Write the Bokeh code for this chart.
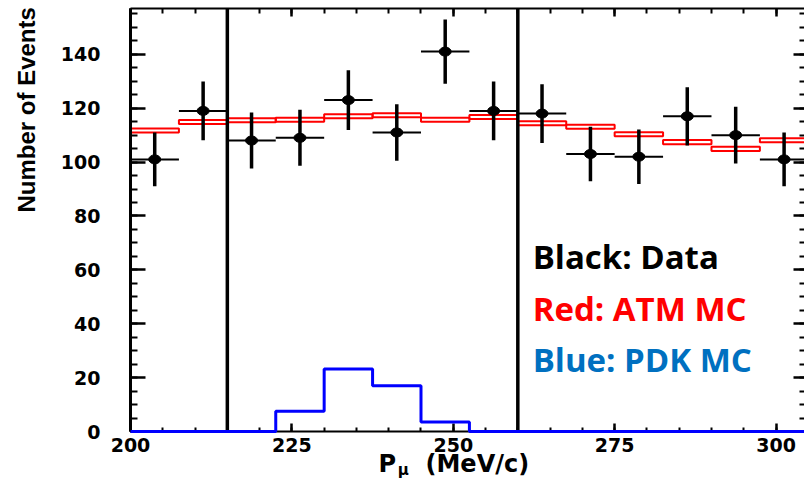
import math

from bokeh.plotting import figure
from bokeh.models import (Range1d, LinearAxis, Label, SingleIntervalTicker,
                          CustomJSTickFormatter)
from bokeh.embed import file_html
from bokeh.resources import INLINE

# Muon momentum bins (MeV/c), 7.5 MeV/c wide
bin_edges = [200.0, 207.5, 215.0, 222.5, 230.0, 237.5, 245.0, 252.5,
             260.0, 267.5, 275.0, 282.5, 290.0, 297.5, 305.0]

# Observed events per bin and their statistical errors
data_counts = [101, 119, 108, 109, 123, 111, 141, 119, 118, 103, 102, 117, 110, 101]
data_errors = [10.0, 10.9, 10.4, 10.4, 11.1, 10.5, 11.9, 10.9, 10.9, 10.1, 10.1, 10.8, 10.5, 10.0]

# Atmospheric-neutrino MC expectation (band) per bin
atm_mc = [111.7, 114.9, 115.5, 115.7, 117.0, 117.4, 115.7, 116.7,
          114.4, 113.1, 110.3, 107.4, 104.9, 108.1]
atm_mc_err = [0.75, 0.75, 0.75, 0.75, 0.75, 0.75, 0.75, 0.75,
              0.75, 0.75, 0.75, 0.75, 0.75, 0.75]

# Proton-decay MC per bin
pdk_mc = [0, 0, 0, 7.5, 23.2, 17.0, 3.5, 0, 0, 0, 0, 0, 0, 0]

# Momentum window cuts
cut_lines = [215, 260]

legend_texts = ["Black: Data", "Red: ATM MC", "Blue: PDK MC"]
legend_colors = ["#000000", "#ff0000", "#0070c0"]

x_title = ["P", "\u03bc", "(MeV/c)"]
y_title = "Number of Events"

# Histogram frame (data units); the canvas extends past it to hold titles
x_lo, x_hi = 200.0, 304.41
y_lo, y_hi = 0.0, 157.0

lefts = bin_edges[:-1]
rights = bin_edges[1:]
centers = [(a + b) / 2 for a, b in zip(lefts, rights)]

p = figure(width=804, height=481,
           x_range=Range1d(179.86, x_hi), y_range=Range1d(-18.55, 159.97),
           output_backend="svg", toolbar_location=None,
           min_border=0, x_axis_location=None, y_axis_location=None)
p.xgrid.visible = False
p.ygrid.visible = False
p.outline_line_color = None
p.background_fill_color = "white"
p.border_fill_color = "white"

tick_font = "DejaVu Sans"
blank = CustomJSTickFormatter(code="return ''")


def make_axis(loc, bounds, ticker, tick_in, minor_in, line_w, show_labels, standoff=0):
    ax = LinearAxis(ticker=ticker, fixed_location=loc, bounds=bounds)
    ax.major_tick_in = tick_in
    ax.major_tick_out = 0
    ax.minor_tick_in = minor_in
    ax.minor_tick_out = 0
    ax.axis_line_width = line_w
    ax.major_tick_line_width = 2.5
    ax.minor_tick_line_width = 2
    ax.axis_line_color = "black"
    ax.major_tick_line_color = "black"
    ax.minor_tick_line_color = "black"
    if show_labels:
        ax.major_label_text_font = tick_font
        ax.major_label_text_font_style = "bold"
        ax.major_label_text_font_size = "19px"
        ax.major_label_text_color = "black"
        ax.major_label_standoff = standoff
    else:
        ax.formatter = blank
        ax.major_label_standoff = 0
    return ax


x_ticker = SingleIntervalTicker(interval=25, num_minor_ticks=5)
y_ticker = SingleIntervalTicker(interval=20, num_minor_ticks=4)

p.add_layout(make_axis(y_lo, (x_lo, x_hi), x_ticker, 8, 4, 2, True, standoff=6), "below")
p.add_layout(make_axis(y_hi, (x_lo, x_hi), x_ticker, 8, 5, 2, False), "above")
p.add_layout(make_axis(x_lo, (y_lo, y_hi), y_ticker, 15, 7, 3, True, standoff=30), "left")
right_axis = make_axis(x_hi, (y_lo, y_hi), y_ticker, 11, 5, 2, False)
right_axis.axis_line_color = None
p.add_layout(right_axis, "right")

# ATM MC band: hollow boxes per bin
p.quad(left=lefts, right=rights,
       bottom=[v - e for v, e in zip(atm_mc, atm_mc_err)],
       top=[v + e for v, e in zip(atm_mc, atm_mc_err)],
       fill_color=None, line_color="#ff0000", line_width=2)

# Cut lines spanning the histogram frame
p.segment(x0=cut_lines, x1=cut_lines, y0=[y_lo] * len(cut_lines), y1=[y_hi] * len(cut_lines),
          line_color="black", line_width=3.5)

# PDK MC histogram outline (drawn over the axis line)
p.step(x=bin_edges[:-1] + [x_hi], y=pdk_mc + [pdk_mc[-1]], mode="after",
       line_color="#0000ff", line_width=3, level="overlay")

# Data points with error bars
p.segment(x0=centers, x1=centers,
          y0=[v - e for v, e in zip(data_counts, data_errors)],
          y1=[v + e for v, e in zip(data_counts, data_errors)],
          line_color="black", line_width=3.5)
p.segment(x0=lefts, x1=rights, y0=data_counts, y1=data_counts,
          line_color="black", line_width=2)
p.ellipse(x=centers, y=data_counts, width=12, height=9,
          width_units="screen", height_units="screen",
          fill_color="black", line_color="black")

# Legend text block
for i, (t, col) in enumerate(zip(legend_texts, legend_colors)):
    p.add_layout(Label(x=262.3, y=64.8 - 19.0 * i, text=t, text_color=col,
                       text_font="Open Sans", text_font_style="bold",
                       text_font_size="33px", text_baseline="alphabetic",
                       text_align="left"))

# Axis titles
p.add_layout(Label(x=183.9, y=119.4, text=y_title, angle=math.pi / 2,
                   text_align="center", text_baseline="middle",
                   text_font="Liberation Sans", text_font_style="bold",
                   text_font_size="24px", text_color="black"))
p.add_layout(Label(x=238.4, y=-12.0, text=x_title[0], text_align="left",
                   text_baseline="alphabetic", text_font=tick_font,
                   text_font_style="bold", text_font_size="24px", text_color="black"))
p.add_layout(Label(x=241.4, y=-14.2, text=x_title[1], text_align="left",
                   text_baseline="alphabetic", text_font=tick_font,
                   text_font_style="bold", text_font_size="15px", text_color="black"))
p.add_layout(Label(x=245.7, y=-12.0, text=x_title[2], text_align="left",
                   text_baseline="alphabetic", text_font=tick_font,
                   text_font_style="bold", text_font_size="24px", text_color="black"))

open("out.html", "w").write(file_html(p, INLINE))
